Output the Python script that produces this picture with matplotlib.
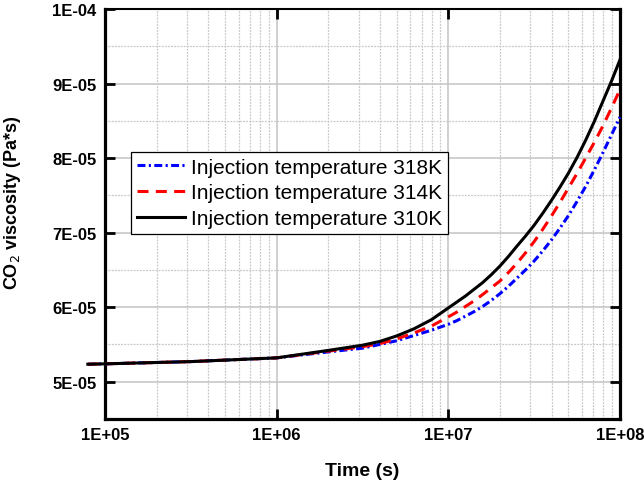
import matplotlib
matplotlib.use("Agg")
import matplotlib.pyplot as plt
from matplotlib.ticker import FixedLocator, FixedFormatter, NullFormatter

plt.rcParams['font.family'] = ['Liberation Sans', 'DejaVu Sans']

# ---- data ----
# time as decimal exponents (t = 10**exp seconds)
log_time = [4.9, 5.0, 5.5, 6.0, 6.3, 6.4, 6.5, 6.6, 6.7, 6.8, 6.9,
            7.0, 7.05, 7.1, 7.15, 7.2, 7.25, 7.3, 7.35, 7.4, 7.45, 7.5,
            7.55, 7.6, 7.65, 7.7, 7.75, 7.8, 7.85, 7.9, 7.95, 8.0]
# viscosity in units of 1e-5 Pa*s
visc_318K = [5.235, 5.24, 5.27, 5.32, 5.40, 5.425, 5.45, 5.50, 5.55, 5.62, 5.69,
             5.77, 5.82, 5.88, 5.94, 6.01, 6.09, 6.18, 6.28, 6.39, 6.50, 6.62,
             6.755, 6.90, 7.06, 7.23, 7.42, 7.62, 7.84, 8.07, 8.31, 8.55]
visc_314K = [5.235, 5.24, 5.27, 5.32, 5.41, 5.44, 5.47, 5.51, 5.575, 5.655, 5.745,
             5.87, 5.935, 6.01, 6.085, 6.17, 6.26, 6.35, 6.465, 6.59, 6.73, 6.88,
             7.045, 7.22, 7.405, 7.60, 7.795, 8.00, 8.21, 8.43, 8.67, 8.92]
visc_310K = [5.235, 5.24, 5.27, 5.32, 5.42, 5.455, 5.49, 5.54, 5.615, 5.71, 5.83,
             5.99, 6.07, 6.15, 6.24, 6.33, 6.435, 6.55, 6.68, 6.82, 6.955, 7.10,
             7.26, 7.43, 7.61, 7.80, 8.01, 8.24, 8.49, 8.76, 9.03, 9.32]
scale = 1e-5

labels = ["Injection temperature 318K", "Injection temperature 314K",
          "Injection temperature 310K"]

x_ticks = [1e5, 1e6, 1e7, 1e8]
x_ticklabels = ["1E+05", "1E+06", "1E+07", "1E+08"]
y_ticks = [5e-5, 6e-5, 7e-5, 8e-5, 9e-5, 1e-4]
y_ticklabels = ["5E-05", "6E-05", "7E-05", "8E-05", "9E-05", "1E-04"]
y_minor = [5.5e-5, 6.5e-5, 7.5e-5, 8.5e-5, 9.5e-5]

time_s = [10 ** e for e in log_time]

# ---- figure ----
fig = plt.figure(figsize=(6.44, 4.81), dpi=100)
ax = fig.add_axes([105/644, 1 - 420/481, 515/644, 410/481])

lw = 2.2
ax.plot(time_s, [v*scale for v in visc_318K], color='#0000ff', lw=lw,
        linestyle=(0, (2.6, 1.1, 0.7, 1.1)), label=labels[0], clip_on=False, zorder=3)
ax.plot(time_s, [v*scale for v in visc_314K], color='#ff0000', lw=lw,
        linestyle=(0, (3.6, 2.4)), label=labels[1], clip_on=False, zorder=4)
ax.plot(time_s, [v*scale for v in visc_310K], color='black', lw=lw,
        linestyle='-', label=labels[2], clip_on=False, zorder=5)

ax.set_xscale('log')
ax.set_xlim(1e5, 1e8)
ax.set_ylim(4.5e-5, 1e-4)

ax.xaxis.set_major_locator(FixedLocator(x_ticks))
ax.xaxis.set_major_formatter(FixedFormatter(x_ticklabels))
ax.xaxis.set_minor_formatter(NullFormatter())
ax.yaxis.set_major_locator(FixedLocator(y_ticks))
ax.yaxis.set_major_formatter(FixedFormatter(y_ticklabels))
ax.yaxis.set_minor_locator(FixedLocator(y_minor))

ax.grid(which='major', color='#c4c4c4', lw=1.1, linestyle='-', zorder=0)
ax.grid(which='minor', color='#c8c8c8', lw=0.9, linestyle=(0, (1.5, 1.0)), zorder=0)
ax.set_axisbelow(True)

ax.tick_params(which='major', direction='in', length=7, width=2.0,
               top=True, right=True, labelsize=12, pad=6)
ax.tick_params(which='minor', length=0, width=0, top=True, right=True)
for lab in ax.get_xticklabels() + ax.get_yticklabels():
    lab.set_fontweight('bold')

for side in ['left', 'right', 'bottom']:
    ax.spines[side].set_linewidth(2.3)
ax.spines['top'].set_linewidth(1.5)

ax.set_xlabel("Time (s)", fontsize=14, fontweight='bold', labelpad=14)
ax.set_ylabel("CO$_2$ viscosity (Pa*s)", fontsize=13, fontweight='bold')
ax.yaxis.set_label_coords(-0.160, 0.529)

leg = ax.legend(loc='upper left', bbox_to_anchor=(0.05, 0.652), borderaxespad=0,
                fontsize=15, frameon=True, fancybox=False, shadow=False,
                handlelength=2.3, handletextpad=0.3, labelspacing=0.33,
                borderpad=0.28)
leg.get_frame().set_edgecolor('black')
leg.get_frame().set_linewidth(0.9)
leg.get_frame().set_facecolor('white')
leg.get_frame().set_alpha(1.0)
leg.set_zorder(10)

fig.savefig("out.png", dpi=100)
